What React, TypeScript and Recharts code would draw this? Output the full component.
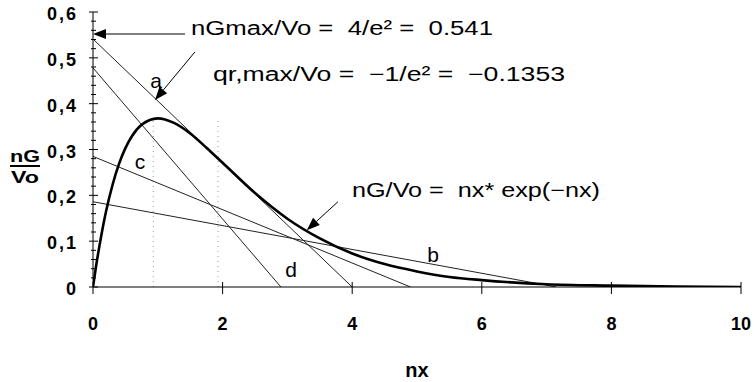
import React from 'react'
import { LineChart, Line, XAxis, YAxis, ReferenceLine } from 'recharts'

// nG/Vo curve
const curveX = [0, 0.05, 0.1, 0.2, 0.3, 0.4, 0.5, 0.6, 0.75, 1, 1.25, 1.5, 1.75, 2, 2.5, 3, 3.5, 4, 4.5, 5, 5.5, 6, 7, 8, 9, 10]
const curveY = [0, 0.048, 0.09, 0.164, 0.222, 0.268, 0.303, 0.329, 0.354, 0.368, 0.358, 0.335, 0.304, 0.271, 0.205, 0.149, 0.106, 0.073, 0.05, 0.034, 0.022, 0.015, 0.006, 0.003, 0.001, 0]

// straight lines a, b, c, d (start / end points)
const lineA = [{ x: 0, y: 0.541 }, { x: 4, y: 0 }]
const lineB = [{ x: 0, y: 0.186 }, { x: 7.15, y: 0 }]
const lineC = [{ x: 0, y: 0.285 }, { x: 4.9, y: 0 }]
const lineD = [{ x: 0, y: 0.478 }, { x: 2.9, y: 0 }]

// dotted drop lines
const dropX = [0.93, 1.93]
const dropTop = 0.37

// annotation arrows: [from, to]
const arrows = [
  [{ x: 1.42, y: 0.552 }, { x: 0, y: 0.552 }],
  [{ x: 1.574, y: 0.513 }, { x: 0.957, y: 0.408 }],
  [{ x: 3.78, y: 0.186 }, { x: 3.3, y: 0.124 }],
]

const xTicks = [0, 2, 4, 6, 8, 10]
const yTicks = [
  0, 0.02, 0.04, 0.06, 0.08, 0.1, 0.12, 0.14, 0.16, 0.18, 0.2, 0.22, 0.24, 0.26, 0.28, 0.3,
  0.32, 0.34, 0.36, 0.38, 0.4, 0.42, 0.44, 0.46, 0.48, 0.5, 0.52, 0.54, 0.56, 0.58, 0.6,
]

const curveData = curveX.map((x, i) => ({ x, y: curveY[i] }))

const FONT = '"Liberation Sans", Arial, Helvetica, sans-serif'

const XTick = (props: any) => {
  const { x, y, payload } = props
  return (
    <g>
      <line x1={x} x2={x} y1={y - 5} y2={y + 7} stroke="#000" strokeWidth={1} />
      <text x={x} y={y + 43} textAnchor="middle" fontFamily={FONT} fontWeight="bold" fontSize={18} fill="#000">
        {payload.value}
      </text>
    </g>
  )
}

const YTick = (props: any) => {
  const { x, y, payload } = props
  const v = payload.value
  const major = Math.abs(v * 10 - Math.round(v * 10)) < 1e-6
  if (!major) {
    return <line x1={x - 2} x2={x + 3} y1={y} y2={y} stroke="#000" strokeWidth={1} />
  }
  const label = v === 0 ? '0' : v.toFixed(1).replace('.', ',')
  return (
    <g>
      <line x1={x - 4} x2={x + 5} y1={y} y2={y} stroke="#000" strokeWidth={1} />
      <text x={x - 15} y={y + 8} textAnchor="end" fontFamily={FONT} fontWeight="bold" fontSize={18} letterSpacing={2} fill="#000">
        {label}
      </text>
    </g>
  )
}

const Arrow = (props: any) => {
  const { x1, y1, x2, y2 } = props
  const ang = Math.atan2(y2 - y1, x2 - x1)
  const len = 13
  const w = 5
  const bx = x2 - len * Math.cos(ang)
  const by = y2 - len * Math.sin(ang)
  const px = -Math.sin(ang) * w
  const py = Math.cos(ang) * w
  return (
    <g>
      <line x1={x1} y1={y1} x2={bx} y2={by} stroke="#000" strokeWidth={1} />
      <polygon points={`${x2},${y2} ${bx + px},${by + py} ${bx - px},${by - py}`} fill="#000" />
    </g>
  )
}

export default function App() {
  return (
    <div style={{ position: 'absolute', left: 0, top: 0, width: 754, height: 382, background: '#fff' }}>
      <LineChart width={754} height={382} margin={{ top: 12, right: 13, left: 0, bottom: 65 }}>
        <XAxis
          type="number"
          dataKey="x"
          domain={[0, 10]}
          ticks={xTicks}
          interval={0}
          tickSize={0}
          tickMargin={0}
          tick={<XTick />}
          axisLine={{ stroke: '#000', strokeWidth: 1 }}
          tickLine={false}
          height={30}
          allowDataOverflow
        />
        <YAxis
          type="number"
          dataKey="y"
          domain={[0, 0.6]}
          ticks={yTicks}
          interval={0}
          tickSize={0}
          tickMargin={0}
          tick={<YTick />}
          axisLine={{ stroke: '#000', strokeWidth: 1 }}
          tickLine={false}
          width={93}
          allowDataOverflow
        />
        {dropX.map((dx) => (
          <ReferenceLine
            key={dx}
            segment={[{ x: dx, y: 0 }, { x: dx, y: dropTop }]}
            stroke="#999"
            strokeWidth={1}
            strokeDasharray="1 4"
          />
        ))}
        <Line data={lineA} dataKey="y" type="linear" stroke="#222" strokeWidth={1} dot={false} isAnimationActive={false} />
        <Line data={lineB} dataKey="y" type="linear" stroke="#222" strokeWidth={1} dot={false} isAnimationActive={false} />
        <Line data={lineC} dataKey="y" type="linear" stroke="#222" strokeWidth={1} dot={false} isAnimationActive={false} />
        <Line data={lineD} dataKey="y" type="linear" stroke="#222" strokeWidth={1} dot={false} isAnimationActive={false} />
        <Line data={curveData} dataKey="y" type="monotone" stroke="#000" strokeWidth={2.6} dot={false} isAnimationActive={false} />
        {arrows.map((seg, i) => (
          <ReferenceLine key={i} segment={seg} ifOverflow="visible" shape={<Arrow />} />
        ))}
      </LineChart>
      <svg width={754} height={382} style={{ position: 'absolute', left: 0, top: 0, pointerEvents: 'none' }}>
        <g fontFamily={FONT} fill="#000">
          <text x={191} y={35} fontSize={20} textLength={302} lengthAdjust="spacingAndGlyphs" style={{ whiteSpace: 'pre' }}>
            {'nGmax/Vo =  4/e² =  0.541'}
          </text>
          <text x={213} y={81} fontSize={20} textLength={352} lengthAdjust="spacingAndGlyphs" style={{ whiteSpace: 'pre' }}>
            {'qr,max/Vo =  −1/e² =  −0.1353'}
          </text>
          <text x={352} y={197} fontSize={20} textLength={248} lengthAdjust="spacingAndGlyphs" style={{ whiteSpace: 'pre' }}>
            {'nG/Vo =  nx* exp(−nx)'}
          </text>
          <text x={156} y={88} fontSize={21} textAnchor="middle">a</text>
          <text x={140} y={169} fontSize={21} textAnchor="middle">c</text>
          <text x={291} y={277} fontSize={21} textAnchor="middle">d</text>
          <text x={433} y={262} fontSize={21} textAnchor="middle">b</text>
          <text x={417} y={377} fontSize={20} fontWeight="bold" textAnchor="middle">nx</text>
          <text x={25} y={162} fontSize={17} fontWeight="bold" textAnchor="middle" textLength={30} lengthAdjust="spacingAndGlyphs">nG</text>
          <line x1={10} x2={40} y1={166} y2={166} stroke="#000" strokeWidth={2} />
          <text x={25} y={183} fontSize={17} fontWeight="bold" textAnchor="middle" textLength={28} lengthAdjust="spacingAndGlyphs">Vo</text>
        </g>
      </svg>
    </div>
  )
}
